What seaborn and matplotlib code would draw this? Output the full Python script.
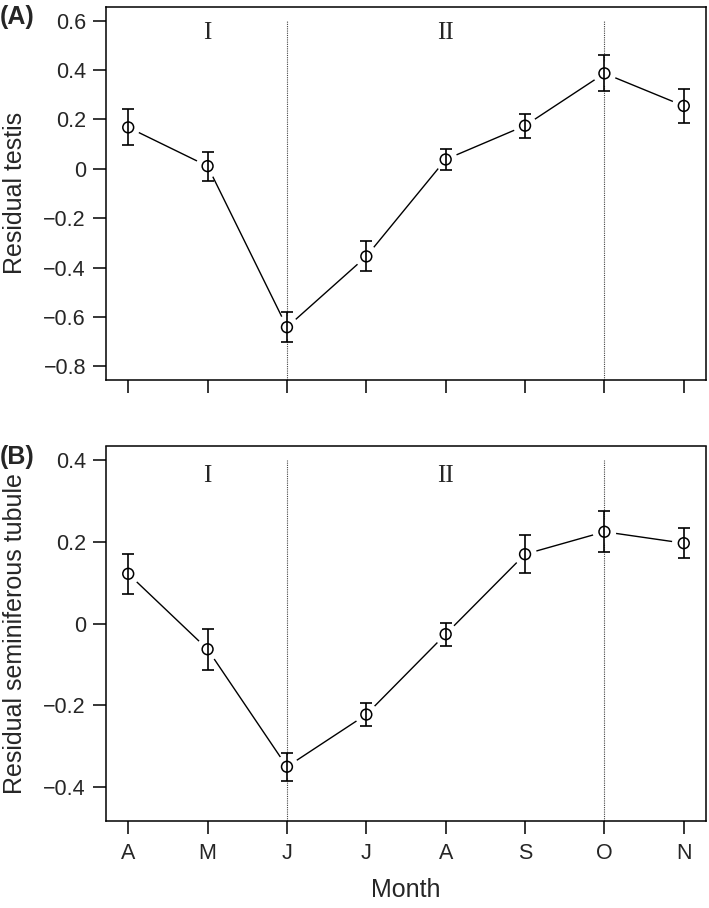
import numpy as np
import pandas as pd
import matplotlib
matplotlib.use("Agg")
import matplotlib.pyplot as plt
import seaborn as sns
from matplotlib.ticker import FuncFormatter

# data
months = ["A", "M", "J", "J", "A", "S", "O", "N"]
month_pos = [1, 2, 3, 4, 5, 6, 7, 8]
testis = [0.168, 0.011, -0.642, -0.355, 0.038, 0.175, 0.387, 0.255]
testis_err = [0.073, 0.059, 0.060, 0.061, 0.042, 0.048, 0.073, 0.069]
tubule = [0.122, -0.063, -0.351, -0.223, -0.026, 0.170, 0.225, 0.197]
tubule_err = [0.049, 0.050, 0.034, 0.028, 0.028, 0.047, 0.050, 0.036]
period_breaks = [3, 7]
period_labels = ["I", "II"]
period_label_x = [2, 5]

sns.set_style("ticks")
plt.rcParams['font.family'] = ['Liberation Sans', 'DejaVu Sans']
plt.rcParams['axes.linewidth'] = 1.1

fig = plt.figure(figsize=(7.09, 9.08), dpi=100)
ax_a = fig.add_axes([106 / 709, 1 - 380 / 908, 600 / 709, 373 / 908])
ax_b = fig.add_axes([106 / 709, 1 - 821 / 908, 600 / 709, 374.5 / 908])


def fmt(v, pos):
    s = f"{v:g}"
    if s == "-0":
        s = "0"
    return s.replace("-", "\u2212")


def draw_panel(ax, y, err, ylim, yticks, label_y):
    df = pd.DataFrame({"x": month_pos, "y": y, "err": err})
    sns.lineplot(data=df, x="x", y="y", ax=ax, color="black", lw=1.0, zorder=2)
    # white disks give the R type="b" gaps around points
    sns.scatterplot(data=df, x="x", y="y", ax=ax, s=17 ** 2, color="white",
                    edgecolor="none", zorder=3)
    ax.errorbar(df["x"], df["y"], yerr=df["err"], fmt="none", ecolor="black",
                elinewidth=1.2, capsize=4.0, capthick=1.2, zorder=4)
    sns.scatterplot(data=df, x="x", y="y", ax=ax, s=7.8 ** 2, facecolor="none",
                    edgecolor="black", linewidth=1.1, zorder=5)
    ax.set_xlim(0.72, 8.28)
    ax.set_ylim(*ylim)
    for xb in period_breaks:
        ax.vlines(xb, ylim[0], yticks[-1], colors="#444444", linestyles=(0, (1, 1)),
                  lw=0.8, zorder=1)
    for xl, t in zip(period_label_x, period_labels):
        ax.text(xl, label_y, t, ha="center", va="center", fontsize=18,
                family=["Liberation Serif", "DejaVu Serif"])
    ax.set_yticks(yticks)
    ax.yaxis.set_major_formatter(FuncFormatter(fmt))
    ax.set_xticks(month_pos)
    ax.set_xlabel("")
    ax.set_ylabel("")
    ax.tick_params(axis="both", direction="out", length=9.4, width=1.1,
                   labelsize=15.5, color="black")
    ax.tick_params(axis="y", pad=5)
    ax.tick_params(axis="x", pad=6.5)
    for sp in ax.spines.values():
        sp.set_visible(True)
        sp.set_color("black")


draw_panel(ax_a, testis, testis_err, (-0.856, 0.656),
           [-0.8, -0.6, -0.4, -0.2, 0, 0.2, 0.4, 0.6], 0.551)
ax_a.set_xticklabels([])

draw_panel(ax_b, tubule, tubule_err, (-0.484, 0.434),
           [-0.4, -0.2, 0, 0.2, 0.4], 0.362)
ax_b.set_xticklabels(months)

fig.text(15 / 709, 1 - 193 / 908, "Residual testis", rotation=90, ha="center",
         va="center", fontsize=18)
fig.text(15 / 709, 1 - 634 / 908, "Residual seminiferous tubule", rotation=90,
         ha="center", va="center", fontsize=18)
fig.text(406 / 709, 1 - 890 / 908, "Month", ha="center", va="center", fontsize=18)
fig.text(0, 1 - 17 / 908, "(A)", ha="left", va="center", fontsize=18, fontweight="bold")
fig.text(0, 1 - 457 / 908, "(B)", ha="left", va="center", fontsize=18, fontweight="bold")

fig.savefig("out.png", dpi=100)
